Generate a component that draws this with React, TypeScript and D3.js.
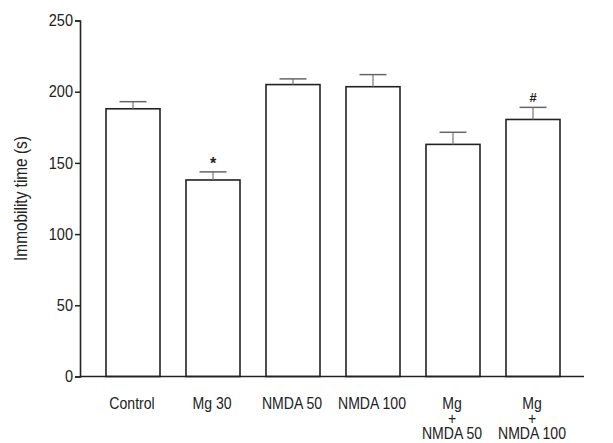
import * as d3 from "d3";
import React, { useEffect, useRef } from "react";

// groups (multi-line labels split on "|")
const groups = ["Control", "Mg 30", "NMDA 50", "NMDA 100", "Mg|+|NMDA 50", "Mg|+|NMDA 100"];
const means = [188, 138, 205, 203.5, 163, 180.5];
const sems = [5, 5.7, 4, 8.5, 8.5, 8.5];
const marks = ["", "*", "", "", "", "#"];
const yTicks = [0, 50, 100, 150, 200, 250];

const App: React.FC = () => {
  const svgRef = useRef<SVGSVGElement | null>(null);

  useEffect(() => {
    const width = 613;
    const height = 443;
    const font = "Arial, 'Liberation Sans', Helvetica, sans-serif";
    const narrow = 0.88; // the original type is a condensed sans

    const svg = d3.select(svgRef.current);
    svg.selectAll("*").remove();
    svg.attr("width", width).attr("height", height);

    const axisX = 80;
    const x = d3
      .scaleBand<string>()
      .domain(groups)
      .range([axisX, 586])
      .paddingInner(0.325)
      .paddingOuter(0.325);
    const y = d3.scaleLinear().domain([0, 250]).range([376.5, 20.5]);

    // bars
    svg
      .selectAll(".bar")
      .data(groups)
      .enter()
      .append("rect")
      .attr("class", "bar")
      .attr("x", (d) => x(d)!)
      .attr("y", (_, i) => y(means[i]))
      .attr("width", x.bandwidth())
      .attr("height", (_, i) => y(0) - y(means[i]))
      .attr("fill", "#fff")
      .attr("stroke", "#222")
      .attr("stroke-width", 1.6);

    // error bars (upper only)
    const capW = x.bandwidth() / 2;
    groups.forEach((g, i) => {
      const cx = x(g)! + x.bandwidth() / 2;
      const top = y(means[i] + sems[i]);
      svg
        .append("line")
        .attr("x1", cx)
        .attr("x2", cx)
        .attr("y1", y(means[i]))
        .attr("y2", top)
        .attr("stroke", "#777")
        .attr("stroke-width", 1.2);
      svg
        .append("line")
        .attr("x1", cx - capW / 2)
        .attr("x2", cx + capW / 2)
        .attr("y1", top)
        .attr("y2", top)
        .attr("stroke", "#666")
        .attr("stroke-width", 1.5);
      if (marks[i]) {
        svg
          .append("text")
          .attr("x", cx)
          .attr("y", top - (marks[i] === "*" ? 3 : 5))
          .attr("text-anchor", "middle")
          .attr("font-family", font)
          .attr("font-size", marks[i] === "*" ? "16px" : "13px")
          .attr("font-weight", "bold")
          .attr("fill", "#222")
          .text(marks[i]);
      }
    });

    // y axis
    const yAxis = svg
      .append("g")
      .attr("transform", `translate(${axisX},0)`)
      .call(d3.axisLeft(y).tickValues(yTicks).tickSize(5).tickPadding(3));
    yAxis.select(".domain").attr("stroke", "#222").attr("stroke-width", 1.6);
    yAxis.selectAll(".tick line").attr("stroke", "#222").attr("stroke-width", 1.5);
    yAxis
      .selectAll(".tick text")
      .attr("font-family", font)
      .attr("font-size", "16.5px")
      .attr("fill", "#222")
      .attr("transform", `scale(${narrow},1)`);

    // x axis line
    svg
      .append("line")
      .attr("x1", axisX)
      .attr("x2", 584)
      .attr("y1", y(0))
      .attr("y2", y(0))
      .attr("stroke", "#222")
      .attr("stroke-width", 1.6);

    // x labels
    groups.forEach((g) => {
      const cx = x(g)! + x.bandwidth() / 2;
      const lines = g.split("|");
      const t = svg
        .append("text")
        .attr("transform", `translate(${cx - 1},409) scale(${narrow},1)`)
        .attr("text-anchor", "middle")
        .attr("font-family", font)
        .attr("font-size", "16px")
        .attr("fill", "#222");
      lines.forEach((l, j) => {
        t.append("tspan")
          .attr("x", 0)
          .attr("dy", j === 0 ? 0 : 15)
          .text(l);
      });
    });

    // y axis title
    svg
      .append("text")
      .attr("transform", `translate(27, ${(y(0) + y(250)) / 2}) rotate(-90) scale(${narrow},1)`)
      .attr("text-anchor", "middle")
      .attr("font-family", font)
      .attr("font-size", "17.5px")
      .attr("fill", "#222")
      .text("Immobility time (s)");
  }, []);

  return (
    <div style={{ position: "absolute", left: 0, top: 0 }}>
      <svg ref={svgRef}></svg>
    </div>
  );
};

export default App;
